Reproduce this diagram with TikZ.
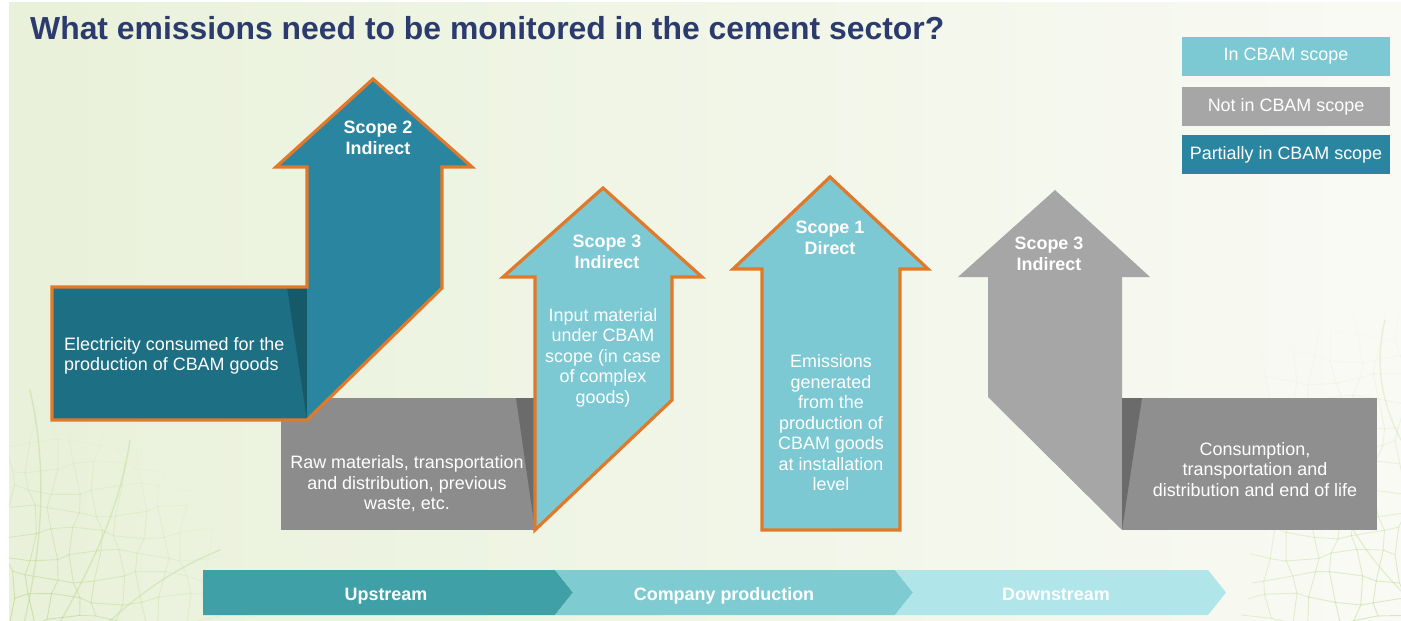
\documentclass[tikz,border=0pt]{standalone}
\usepackage{fontspec}
\setmainfont{Liberation Sans}
\definecolor{bgL}{HTML}{E9F1DA}
\definecolor{bgR}{HTML}{F9FAF4}
\definecolor{navy}{HTML}{2C3B6E}
\definecolor{orangeC}{HTML}{E07A2A}
\definecolor{tealV}{HTML}{2A86A0}
\definecolor{tealH}{HTML}{1D6F84}
\definecolor{tealS}{HTML}{165A6A}
\definecolor{lightC}{HTML}{7CC8D3}
\definecolor{greyA}{HTML}{8C8C8C}
\definecolor{greyS}{HTML}{6B6B6B}
\definecolor{greyV}{HTML}{A6A6A6}
\definecolor{greyB}{HTML}{8F8F8F}
\definecolor{chevA}{HTML}{40A0A8}
\definecolor{chevB}{HTML}{7FCBD2}
\definecolor{chevC}{HTML}{B0E5EA}
\definecolor{veinC}{HTML}{B9D58A}
\begin{document}
\begin{tikzpicture}[x=1bp,y=-1bp,
  declare function={jx(\i,\j)=6*sin(\i*137.5+\j*71.3); jy(\i,\j)=6*cos(\i*53.1+\j*97.7);},
  lbl/.style={text=white, font=\fontsize{18}{20.6}\selectfont, align=center, inner sep=0pt},
  hdr/.style={text=white, font=\bfseries\fontsize{18}{20.6}\selectfont, align=center, inner sep=0pt},
  outline/.style={draw=orangeC, line width=3.2bp, line join=miter},
  vein/.style={draw=veinC, line width=0.9bp, line cap=round, line join=round},
  legendbox/.style={minimum width=208bp, minimum height=39bp, inner sep=0pt, text=white,
    font=\fontsize{18}{20}\selectfont},
  chevtext/.style={text=white, font=\bfseries\fontsize{18}{20}\selectfont, inner sep=0pt, anchor=base}]
\useasboundingbox (0,0) rectangle (1401,621);
% background with thin white margin
\fill[white] (0,0) rectangle (1401,621);
\shade[left color=bgL, right color=bgR] (9,3) rectangle (1401,621);

% faint leaf veins in the lower corners
\begin{scope}
\clip (9,3) rectangle (1401,621);
\foreach \i in {0,...,10}{\foreach \j in {0,...,11}{
  \pgfmathsetmacro\xa{9+22*\i+jx(\i,\j)}
  \pgfmathsetmacro\ya{621-22*\j+jy(\i,\j)}
  \pgfmathsetmacro\xb{9+22*(\i+1)+jx(\i+1,\j)}
  \pgfmathsetmacro\yb{621-22*\j+jy(\i+1,\j)}
  \pgfmathsetmacro\xc{9+22*\i+jx(\i,\j+1)}
  \pgfmathsetmacro\yc{621-22*(\j+1)+jy(\i,\j+1)}
  \pgfmathsetmacro\dd{100*sqrt((\xa/100)^2+((650-\ya)/100)^2)}
  \pgfmathsetmacro\op{max(0,0.75*(1-\dd/240))}
  \draw[vein, draw opacity=\op] (\xb,\yb) -- (\xa,\ya) -- (\xc,\yc);
}}
\foreach \i in {0,...,6}{\foreach \j in {0,...,15}{
  \pgfmathsetmacro\xa{1401-22*\i+jx(\i+3,\j)}
  \pgfmathsetmacro\ya{621-22*\j+jy(\i+3,\j)}
  \pgfmathsetmacro\xb{1401-22*(\i+1)+jx(\i+4,\j)}
  \pgfmathsetmacro\yb{621-22*\j+jy(\i+4,\j)}
  \pgfmathsetmacro\xc{1401-22*\i+jx(\i+3,\j+1)}
  \pgfmathsetmacro\yc{621-22*(\j+1)+jy(\i+3,\j+1)}
  \pgfmathsetmacro\dd{100*sqrt(((1420-\xa)/100)^2+((680-\ya)/100)^2)}
  \pgfmathsetmacro\op{max(0,0.6*(1-\dd/360))}
  \draw[vein, draw opacity=\op] (\xb,\yb) -- (\xa,\ya) -- (\xc,\yc);
}}
\draw[vein, line width=1.4bp, draw opacity=0.4] (20,640) .. controls (40,560) and (50,480) .. (30,390);
\draw[vein, line width=1.4bp, draw opacity=0.4] (50,640) .. controls (90,570) and (120,510) .. (130,440);
\draw[vein, line width=1.4bp, draw opacity=0.35] (90,640) .. controls (130,600) and (170,570) .. (220,550);
\draw[vein, line width=1.4bp, draw opacity=0.3] (1410,600) .. controls (1370,560) and (1340,520) .. (1330,470);
\draw[vein, line width=1.4bp, draw opacity=0.25] (1401,440) .. controls (1380,400) and (1375,360) .. (1385,320);
\end{scope}

% title
\node[anchor=base west, inner sep=0pt, text=navy, font=\bfseries\fontsize{32}{36}\selectfont]
  (title) at (30,40) {What emissions need to be monitored in the cement sector?};

% legend
\node[legendbox, fill=lightC] (legIn) at (1286,56.5) {In CBAM scope};
\node[legendbox, fill=greyV] (legNot) at (1286,106.5) {Not in CBAM scope};
\node[legendbox, fill=tealV] (legPart) at (1286,154.5) {Partially in CBAM scope};

% upstream grey bar (raw materials)
\fill[greyA] (281,398) rectangle (535,530);
\fill[greyS] (516,398) -- (535,398) -- (535,530) -- cycle;

% scope 2 arrow
\fill[tealH] (52,287) rectangle (307,420);
\fill[tealS] (287,287) -- (307,287) -- (307,420) -- cycle;
\fill[tealV] (307,167) -- (276,167) -- (373,79) -- (472,167) -- (442,167)
  -- (442,288) -- (307,420) -- cycle;
\draw[outline] (52,287) -- (307,287) -- (307,167) -- (276,167) -- (373,79)
  -- (472,167) -- (442,167) -- (442,288) -- (307,420) -- (52,420) -- cycle;

% scope 3 upstream arrow
\fill[lightC] (535,277) -- (503,277) -- (603,188) -- (702,277) -- (672,277)
  -- (672,400) -- (535,530) -- cycle;
\draw[outline] (535,277) -- (503,277) -- (603,188) -- (702,277) -- (672,277)
  -- (672,400) -- (535,530) -- cycle;

% scope 1 arrow
\fill[lightC] (762,269) -- (733,269) -- (830,177) -- (928,269) -- (900,269)
  -- (900,530) -- (762,530) -- cycle;
\draw[outline] (762,269) -- (733,269) -- (830,177) -- (928,269) -- (900,269)
  -- (900,530) -- (762,530) -- cycle;

% scope 3 downstream arrow
\fill[greyV] (988,277) -- (958,277) -- (1055,190) -- (1150,277) -- (1122,277)
  -- (1122,530) -- (988,397) -- cycle;
\fill[greyB] (1122,398) rectangle (1377,530);
\fill[greyS] (1122,398) -- (1142,398) -- (1122,530) -- cycle;

% labels
\node[hdr] (s2) at (378,138) {Scope 2\\Indirect};
\node[lbl, align=left, anchor=west] (elec) at (64,356) {Electricity consumed for the\\production of CBAM goods};
\node[lbl] (raw) at (407,484) {Raw materials, transportation\\and distribution, previous\\waste, etc.};
\node[hdr] (s3u) at (607,252) {Scope 3\\Indirect};
\node[lbl] (inp) at (603,357.5) {Input material\\under CBAM\\scope (in case\\of complex\\goods)};
\node[hdr] (s1) at (830,238) {Scope 1\\Direct};
\node[lbl] (emi) at (831,423) {Emissions\\generated\\from the\\production of\\CBAM goods\\at installation\\level};
\node[hdr] (s3d) at (1049,254) {Scope 3\\Indirect};
\node[lbl] (cons) at (1255,469.5) {Consumption,\\transportation and\\distribution and end of life};

% value chain chevrons
\fill[chevA] (203,570) -- (555,570) -- (573,592.5) -- (555,615) -- (203,615) -- cycle;
\fill[chevB] (555,570) -- (895,570) -- (913,592.5) -- (895,615) -- (555,615) -- (573,592.5) -- cycle;
\fill[chevC] (895,570) -- (1208,570) -- (1226,592.5) -- (1208,615) -- (895,615) -- (913,592.5) -- cycle;
\node[chevtext] (up) at (386,600) {Upstream};
\node[chevtext] (prod) at (724,600) {Company production};
\node[chevtext] (down) at (1056,600) {Downstream};
\end{tikzpicture}
\end{document}
